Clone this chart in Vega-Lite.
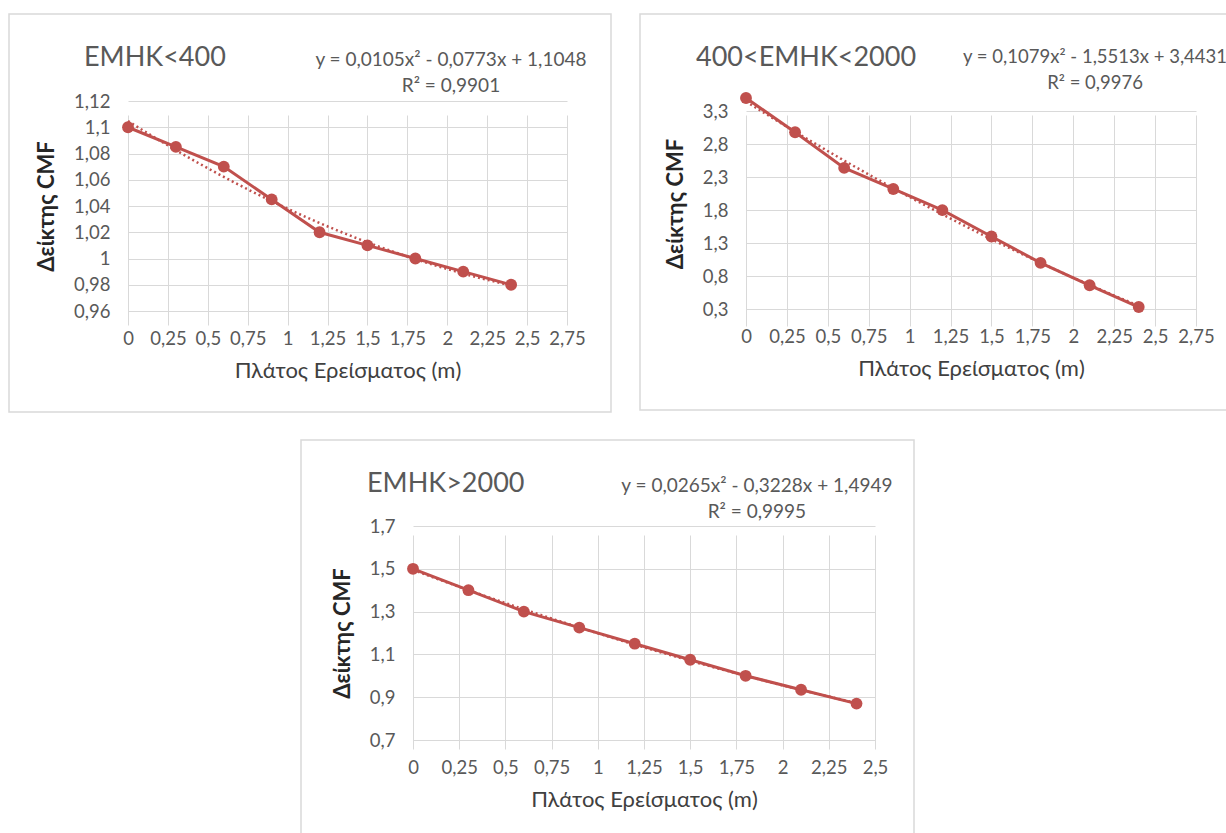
{
  "$schema": "https://vega.github.io/schema/vega-lite/v6.json",
  "background": "white",
  "padding": {"left": 8, "top": 13, "right": 0, "bottom": 0},
  "datasets": {
    "low": [
      {"w": 0, "cmf": 1.1}, {"w": 0.3, "cmf": 1.085}, {"w": 0.6, "cmf": 1.07},
      {"w": 0.9, "cmf": 1.045}, {"w": 1.2, "cmf": 1.02}, {"w": 1.5, "cmf": 1.01},
      {"w": 1.8, "cmf": 1.0}, {"w": 2.1, "cmf": 0.99}, {"w": 2.4, "cmf": 0.98}
    ],
    "mid": [
      {"w": 0, "cmf": 3.5}, {"w": 0.3, "cmf": 2.98}, {"w": 0.6, "cmf": 2.44},
      {"w": 0.9, "cmf": 2.12}, {"w": 1.2, "cmf": 1.8}, {"w": 1.5, "cmf": 1.4},
      {"w": 1.8, "cmf": 1.0}, {"w": 2.1, "cmf": 0.66}, {"w": 2.4, "cmf": 0.33}
    ],
    "high": [
      {"w": 0, "cmf": 1.5}, {"w": 0.3, "cmf": 1.4}, {"w": 0.6, "cmf": 1.3},
      {"w": 0.9, "cmf": 1.225}, {"w": 1.2, "cmf": 1.15}, {"w": 1.5, "cmf": 1.075},
      {"w": 1.8, "cmf": 1.0}, {"w": 2.1, "cmf": 0.935}, {"w": 2.4, "cmf": 0.87}
    ]
  },
  "config": {
    "locale": {"number": {"decimal": ",", "thousands": ".", "grouping": [3], "currency": ["", " €"]}},
    "font": "Lato",
    "view": {"stroke": "#d9d9d9", "strokeWidth": 1.5},
    "axis": {
      "grid": true, "gridColor": "#d9d9d9", "gridWidth": 1, "domain": false, "ticks": false,
      "labelFont": "Lato", "labelFontSize": 18.5, "labelColor": "#595959",
      "titleFont": "Lato", "titleFontSize": 22, "titleColor": "#404040",
      "labelOverlap": false, "labelFlush": false, "format": ".3~g"
    },
    "axisX": {"labelPadding": 18, "titlePadding": 13, "titleFontWeight": "normal"},
    "axisY": {"labelPadding": 18, "titlePadding": 15, "titleFontWeight": "bold", "titleColor": "#262626"}
  },
  "spacing": 26,
  "vconcat": [
    {
      "spacing": 27,
      "hconcat": [
        {
          "width": 602, "height": 398,
          "data": {"name": "low"},
          "layer": [
            {"mark": {"type": "line", "color": "#c0504d", "strokeWidth": 3, "point": {"filled": true, "size": 140, "color": "#c0504d"}},
             "encoding": {
              "x": {"field": "w", "type": "quantitative",
                "scale": {"domain": [0, 2.75], "range": [119, 558], "nice": false, "zero": false},
                "axis": {"values": [0, 0.25, 0.5, 0.75, 1, 1.25, 1.5, 1.75, 2, 2.25, 2.5, 2.75], "title": "Πλάτος Ερείσματος (m)", "offset": -101}},
              "y": {"field": "cmf", "type": "quantitative",
                "scale": {"domain": [0.96, 1.12], "range": [297, 87], "nice": false, "zero": false},
                "axis": {"values": [0.96, 0.98, 1, 1.02, 1.04, 1.06, 1.08, 1.1, 1.12], "title": "Δείκτης CMF", "offset": -119}}
             }},
            {"transform": [{"regression": "cmf", "on": "w", "method": "poly", "order": 2}],
             "mark": {"type": "line", "color": "#c0504d", "strokeWidth": 2.5, "strokeDash": [2, 3]},
             "encoding": {"x": {"field": "w", "type": "quantitative"}, "y": {"field": "cmf", "type": "quantitative"}}},
            {"data": {"values": [{"label": "ΕΜΗΚ<400"}]},
             "mark": {"type": "text", "align": "left", "baseline": "middle", "fontSize": 27, "color": "#595959"},
             "encoding": {"text": {"field": "label"}, "x": {"datum": -0.2756, "type": "quantitative"}, "y": {"datum": 1.1528, "type": "quantitative"}}},
            {"data": {"values": [{"label": "y = 0,0105x² - 0,0773x + 1,1048\nR² = 0,9901"}]},
             "mark": {"type": "text", "align": "center", "baseline": "middle", "fontSize": 19, "lineHeight": 26, "lineBreak": "\n", "color": "#595959"},
             "encoding": {"text": {"field": "label"}, "x": {"datum": 2.023, "type": "quantitative"}, "y": {"datum": 1.1512, "type": "quantitative"}}}
          ]
        },
        {
          "width": 588, "height": 396,
          "data": {"name": "mid"},
          "layer": [
            {"mark": {"type": "line", "color": "#c0504d", "strokeWidth": 3, "point": {"filled": true, "size": 140, "color": "#c0504d"}},
             "encoding": {
              "x": {"field": "w", "type": "quantitative",
                "scale": {"domain": [0, 2.75], "range": [106, 556], "nice": false, "zero": false},
                "axis": {"values": [0, 0.25, 0.5, 0.75, 1, 1.25, 1.5, 1.75, 2, 2.25, 2.5, 2.75], "title": "Πλάτος Ερείσματος (m)", "offset": -101}},
              "y": {"field": "cmf", "type": "quantitative",
                "scale": {"domain": [0.3, 3.5], "range": [295, 84], "nice": false, "zero": false},
                "axis": {"values": [0.3, 0.8, 1.3, 1.8, 2.3, 2.8, 3.3], "title": "Δείκτης CMF", "offset": -106}}
             }},
            {"transform": [{"regression": "cmf", "on": "w", "method": "poly", "order": 2}],
             "mark": {"type": "line", "color": "#c0504d", "strokeWidth": 2.5, "strokeDash": [2, 3]},
             "encoding": {"x": {"field": "w", "type": "quantitative"}, "y": {"field": "cmf", "type": "quantitative"}}},
            {"data": {"values": [{"label": "400<ΕΜΗΚ<2000"}]},
             "mark": {"type": "text", "align": "left", "baseline": "middle", "fontSize": 27, "color": "#595959"},
             "encoding": {"text": {"field": "label"}, "x": {"datum": -0.3056, "type": "quantitative"}, "y": {"datum": 4.1066, "type": "quantitative"}}},
            {"data": {"values": [{"label": "y = 0,1079x² - 1,5513x + 3,4431\nR² = 0,9976"}]},
             "mark": {"type": "text", "align": "center", "baseline": "middle", "fontSize": 18.5, "lineHeight": 26, "lineBreak": "\n", "color": "#595959"},
             "encoding": {"text": {"field": "label"}, "x": {"datum": 2.133, "type": "quantitative"}, "y": {"datum": 4.129, "type": "quantitative"}}}
          ]
        }
      ]
    },
    {
      "spacing": 0,
      "hconcat": [
        {
          "width": 291, "height": 10,
          "data": {"values": [{"k": 1}]},
          "view": {"stroke": null},
          "mark": {"type": "point", "size": 0, "opacity": 0},
          "encoding": {}
        },
        {
          "width": 613, "height": 395,
          "data": {"name": "high"},
          "layer": [
            {"mark": {"type": "line", "color": "#c0504d", "strokeWidth": 3, "point": {"filled": true, "size": 140, "color": "#c0504d"}},
             "encoding": {
              "x": {"field": "w", "type": "quantitative",
                "scale": {"domain": [0, 2.5], "range": [112, 574], "nice": false, "zero": false},
                "axis": {"values": [0, 0.25, 0.5, 0.75, 1, 1.25, 1.5, 1.75, 2, 2.25, 2.5], "title": "Πλάτος Ερείσματος (m)", "offset": -95}},
              "y": {"field": "cmf", "type": "quantitative",
                "scale": {"domain": [0.7, 1.7], "range": [300, 86], "nice": false, "zero": false},
                "axis": {"values": [0.7, 0.9, 1.1, 1.3, 1.5, 1.7], "title": "Δείκτης CMF", "offset": -112}}
             }},
            {"transform": [{"regression": "cmf", "on": "w", "method": "poly", "order": 2}],
             "mark": {"type": "line", "color": "#c0504d", "strokeWidth": 2.5, "strokeDash": [2, 3]},
             "encoding": {"x": {"field": "w", "type": "quantitative"}, "y": {"field": "cmf", "type": "quantitative"}}},
            {"data": {"values": [{"label": "ΕΜΗΚ>2000"}]},
             "mark": {"type": "text", "align": "left", "baseline": "middle", "fontSize": 27, "color": "#595959"},
             "encoding": {"text": {"field": "label"}, "x": {"datum": -0.249, "type": "quantitative"}, "y": {"datum": 1.896, "type": "quantitative"}}},
            {"data": {"values": [{"label": "y = 0,0265x² - 0,3228x + 1,4949\nR² = 0,9995"}]},
             "mark": {"type": "text", "align": "center", "baseline": "middle", "fontSize": 19, "lineHeight": 26, "lineBreak": "\n", "color": "#595959"},
             "encoding": {"text": {"field": "label"}, "x": {"datum": 1.861, "type": "quantitative"}, "y": {"datum": 1.887, "type": "quantitative"}}}
          ]
        }
      ]
    }
  ]
}
